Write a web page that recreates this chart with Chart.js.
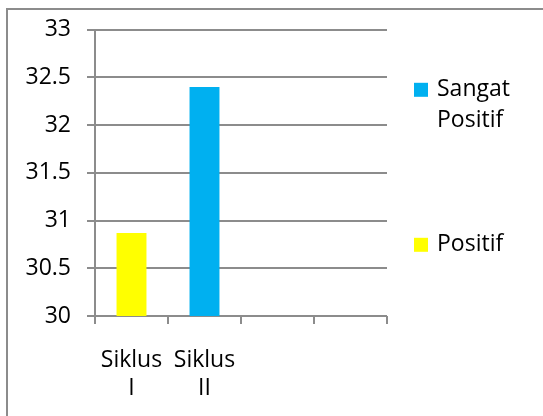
<!DOCTYPE html>
<html>
<head>
<meta charset="utf-8">
<script src="https://cdn.jsdelivr.net/npm/chart.js@4/dist/chart.umd.min.js"></script>
<style>
  html, body { margin: 0; padding: 0; background: #ffffff; }
  #wrap { width: 543px; height: 416px; }
</style>
</head>
<body>
<div id="wrap"><canvas id="c" width="543" height="416"></canvas></div>
<script>
// ---- data ----
const categories = [["Siklus", "I"], ["Siklus", "II"], "", ""];
const seriesNames = ["Sangat Positif", "Positif"];
const sangatPositifValues = [null, 32.4, null, null];
const positifValues = [30.87, null, null, null];
const yMin = 30;
const yMax = 33;
const yStep = 0.5;

const seriesColors = ["#00b0f0", "#ffff00"];
const axisGray = "#8c8c8c";
const fontFamily = "'Open Sans', 'Noto Sans', sans-serif";
const fontSize = 23;

const frameAndLegend = {
  id: "frameAndLegend",
  beforeDraw(chart) {
    const ctx = chart.ctx;
    ctx.save();
    ctx.fillStyle = "#ffffff";
    ctx.fillRect(0, 0, chart.width, chart.height);
    ctx.strokeStyle = axisGray;
    ctx.lineWidth = 2;
    ctx.beginPath();
    ctx.moveTo(7, chart.height);
    ctx.lineTo(7, 9);
    ctx.lineTo(chart.width, 9);
    ctx.stroke();
    ctx.restore();
  },
  afterDraw(chart) {
    const ctx = chart.ctx;
    const area = chart.chartArea;
    ctx.save();
    ctx.font = fontSize + "px " + fontFamily;
    ctx.textBaseline = "middle";
    ctx.textAlign = "left";
    const keyX = area.right + 27;
    const textX = area.right + 50;
    const maxW = 90;
    const lineH = 31;
    const centers = [area.top + 60, area.top + 215];
    chart.data.datasets.forEach((ds, i) => {
      const cy = centers[i];
      ctx.fillStyle = ds.backgroundColor;
      ctx.fillRect(keyX, cy - 7, 14, 14);
      const words = ds.label.split(" ");
      const lines = [];
      let cur = "";
      words.forEach(w => {
        const test = cur ? cur + " " + w : w;
        if (cur && ctx.measureText(test).width > maxW) { lines.push(cur); cur = w; }
        else cur = test;
      });
      if (cur) lines.push(cur);
      ctx.fillStyle = "#000000";
      lines.forEach((ln, k) => ctx.fillText(ln, textX, cy + k * lineH));
    });
    ctx.restore();
  }
};

new Chart(document.getElementById("c"), {
  type: "bar",
  data: {
    labels: categories,
    datasets: [
      { label: seriesNames[0], data: sangatPositifValues, backgroundColor: seriesColors[0], skipNull: true },
      { label: seriesNames[1], data: positifValues, backgroundColor: seriesColors[1], skipNull: true }
    ]
  },
  options: {
    responsive: false,
    animation: false,
    devicePixelRatio: 1,
    datasets: { bar: { categoryPercentage: 1, barPercentage: 0.41 } },
    layout: { padding: { top: 27, right: 156, left: 0, bottom: 0 } },
    plugins: { legend: { display: false }, tooltip: { enabled: false } },
    scales: {
      x: {
        grid: { display: true, drawOnChartArea: false, drawTicks: true, tickLength: 8, color: axisGray, lineWidth: 2, offset: true },
        border: { display: false },
        ticks: { font: { family: fontFamily, size: fontSize, lineHeight: 1.22 }, color: "#000000", padding: 22, maxRotation: 0, autoSkip: false },
        afterFit: s => { s.height = 100; }
      },
      y: {
        min: yMin,
        max: yMax,
        ticks: {
          stepSize: yStep,
          font: { family: fontFamily, size: fontSize },
          color: "#000000",
          padding: 16,
          callback: v => String(Number(v))
        },
        grid: { color: axisGray, lineWidth: 2, tickLength: 8 },
        border: { display: true, color: axisGray, width: 2 },
        afterFit: s => { s.width = 95; }
      }
    }
  },
  plugins: [frameAndLegend]
});
</script>
</body>
</html>
